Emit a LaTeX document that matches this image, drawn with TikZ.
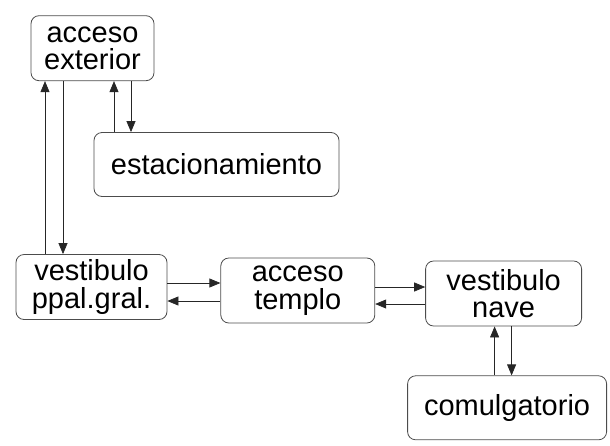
\documentclass[tikz,border=0pt]{standalone}
\usepackage{fontspec}
\setmainfont{Liberation Sans}
\usepackage{tikz}
\usetikzlibrary{positioning,arrows.meta}

\begin{document}
\begin{tikzpicture}[
  area/.style={rectangle, draw=black!70, line width=0.8pt, rounded corners=8pt, minimum height=65pt, align=center, inner sep=0pt, font=\fontsize{29}{27.5}\selectfont},
  arrow/.style={-{Triangle[length=11pt,width=9pt]}, line width=0.7pt, black!85}
  ]
  \useasboundingbox (0,0) rectangle (610pt,-445pt);
  \node[area, minimum width=151pt] (vpp) at (91.5pt,-287pt) {vestibulo\\ppal.gral.};
  \node[area, minimum width=154pt, right=53pt of vpp, yshift=-3.5pt] (tem) {acceso\\templo};
  \node[area, minimum width=156pt, right=50pt of tem, yshift=-3pt] (nav) {vestibulo\\nave};
  \node[area, minimum width=199pt, minimum height=64pt, below=49pt of nav, xshift=3.5pt] (com) {comulgatorio};
  \node[area, minimum width=123pt, above=173pt of vpp, xshift=1pt] (ext) {acceso\\exterior};
  \node[area, minimum width=245pt, minimum height=64pt, below=51pt of ext.south west, anchor=north west, xshift=63pt] (est) {estacionamiento};
  % exterior <-> vestibulo
  \draw[arrow] ([xshift=-47.5pt]ext.south |- vpp.north) -- ([xshift=-47.5pt]ext.south);
  \draw[arrow] ([xshift=-29.5pt]ext.south) -- ([xshift=-29.5pt]ext.south |- vpp.north);
  % exterior <-> estacionamiento
  \draw[arrow] ([xshift=21.5pt]ext.south |- est.north) -- ([xshift=21.5pt]ext.south);
  \draw[arrow] ([xshift=38.5pt]ext.south) -- ([xshift=38.5pt]ext.south |- est.north);
  % vestibulo <-> templo <-> nave
  \draw[arrow] ([yshift=4pt]vpp.east) -- ([yshift=4pt]vpp.east -| tem.west);
  \draw[arrow] ([yshift=-14pt]vpp.east -| tem.west) -- ([yshift=-14pt]vpp.east);
  \draw[arrow] ([yshift=3.5pt]tem.east) -- ([yshift=3.5pt]tem.east -| nav.west);
  \draw[arrow] ([yshift=-13.5pt]tem.east -| nav.west) -- ([yshift=-13.5pt]tem.east);
  % nave <-> comulgatorio
  \draw[arrow] ([xshift=-9pt]nav.south |- com.north) -- ([xshift=-9pt]nav.south);
  \draw[arrow] ([xshift=8pt]nav.south) -- ([xshift=8pt]nav.south |- com.north);
\end{tikzpicture}
\end{document}
